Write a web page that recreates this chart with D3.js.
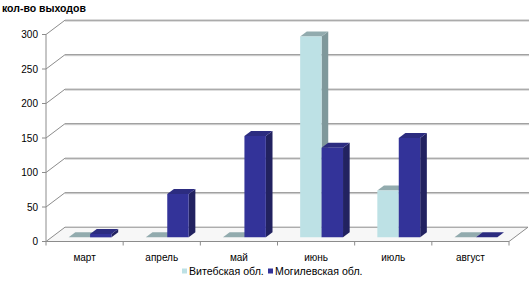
<!DOCTYPE html>
<html><head><meta charset="utf-8">
<script src="https://cdn.jsdelivr.net/npm/d3@7"></script>
<style>
html,body{margin:0;padding:0;background:#fff;}
svg{display:block;font-family:"Liberation Sans",Arial,sans-serif;}
</style></head>
<body>
<svg id="c" width="532" height="296"></svg>
<script>
const categories = ["март","апрель","май","июнь","июль","август"];
const seriesNames = ["Витебская обл.","Могилевская обл."];
const vitebsk = [0, 0, 0, 291, 68, 0];
const mogilev = [5, 63, 147, 130, 144, 0];
const yTicks = [0, 50, 100, 150, 200, 250, 300];
const yTitle = "кол-во выходов";

const svg = d3.select("#c");
const plotLeft = 46, plotRight = 509, plotBottom = 241.5, plotTop = 34.5;
const DX = 19, DY = -14.3; // full depth vector

const x0 = d3.scaleBand().domain(categories).range([plotLeft, plotRight]).padding(0);
const x1 = d3.scaleBand().domain(seriesNames).range([0, x0.bandwidth()]).paddingInner(0).paddingOuter(0.8);
const y = d3.scaleLinear().domain([0, 300]).range([plotBottom, plotTop]);

const P = (x, yy, t) => [x + t*DX, yy + t*DY];
const poly = pts => pts.map(p => p.join(",")).join(" ");

const g = svg.append("g");
yTicks.filter(v => v > 0).forEach(v => {
  const a = P(plotLeft, y(v), 1), b = P(plotRight, y(v), 1);
  g.append("line").attr("x1", a[0]).attr("x2", b[0]+1).attr("y1", a[1]+1).attr("y2", b[1]+1)
    .attr("stroke", "#d0d0d0").attr("stroke-width", 1);
  g.append("line").attr("x1", a[0]).attr("x2", b[0]+1).attr("y1", a[1]).attr("y2", b[1])
    .attr("stroke", "#8c8c8c").attr("stroke-width", 1);
  const c = P(plotLeft, y(v), 0);
  g.append("line").attr("x1", c[0]).attr("y1", c[1]).attr("x2", a[0]).attr("y2", a[1])
    .attr("stroke", "#8c8c8c").attr("stroke-width", 1);
});

const f = [P(plotLeft, plotBottom, 0), P(plotRight, plotBottom, 0), P(plotRight, plotBottom, 1), P(plotLeft, plotBottom, 1)];
g.append("polygon").attr("points", poly(f)).attr("fill", "#f7f7f7").attr("stroke", "#8c8c8c").attr("stroke-width", 1);

g.append("line").attr("x1", plotLeft).attr("x2", plotLeft).attr("y1", y(300)).attr("y2", plotBottom)
  .attr("stroke", "#8c8c8c").attr("stroke-width", 1);
yTicks.forEach(v => {
  g.append("line").attr("x1", plotLeft-4).attr("x2", plotLeft).attr("y1", y(v)).attr("y2", y(v))
    .attr("stroke", "#8c8c8c");
  g.append("text").attr("x", 38).attr("y", y(v)).attr("dy", "0.35em").attr("text-anchor", "end")
    .attr("font-size", 10).attr("fill", "#000").text(v);
});
const bounds = categories.map(c => x0(c)).concat([plotRight]);
bounds.forEach(bx => {
  g.append("line").attr("x1", bx).attr("x2", bx).attr("y1", plotBottom).attr("y2", plotBottom+4).attr("stroke", "#8c8c8c");
});
categories.forEach(c => {
  g.append("text").attr("x", x0(c) + x0.bandwidth()/2).attr("y", 257.5).attr("dy", "0.35em")
    .attr("text-anchor", "middle").attr("font-size", 10).attr("fill", "#000").text(c);
});

const t0 = 0.29, t1 = 0.64;
const colors = [
  {front: "#bde1e5", top: "#92abae", side: "#7f989b"},
  {front: "#333399", top: "#2c2c80", side: "#222260"}
];
const data = [vitebsk, mogilev];
const bg = svg.append("g");
categories.forEach((c, i) => {
  seriesNames.forEach((s, k) => {
    const v = data[k][i];
    const xa = x0(c) + x1(s), xb = xa + x1.bandwidth();
    const yb = y(0), yt = y(v);
    const col = colors[k];
    if (v > 0) bg.append("polygon").attr("points", poly([P(xb, yt, t0), P(xb, yt, t1), P(xb, yb, t1), P(xb, yb, t0)])).attr("fill", col.side);
    bg.append("polygon").attr("points", poly([P(xa, yt, t0), P(xb, yt, t0), P(xb, yt, t1), P(xa, yt, t1)])).attr("fill", col.top);
    if (v > 0) bg.append("polygon").attr("points", poly([P(xa, yt, t0), P(xb, yt, t0), P(xb, yb, t0), P(xa, yb, t0)])).attr("fill", col.front);
  });
});

svg.append("text").attr("x", 2).attr("y", 12).attr("font-size", 10.5).attr("font-weight", "bold")
  .attr("fill", "#000").text(yTitle);

const lg = svg.append("g");
const legendX = [182, 268];
seriesNames.forEach((s, k) => {
  lg.append("rect").attr("x", legendX[k]).attr("y", 268.5).attr("width", 5).attr("height", 5).attr("fill", colors[k].front);
  lg.append("text").attr("x", legendX[k] + 7).attr("y", 271.5).attr("dy", "0.35em").attr("font-size", 10.6)
    .attr("fill", "#000").text(s);
});
</script>
</body></html>
